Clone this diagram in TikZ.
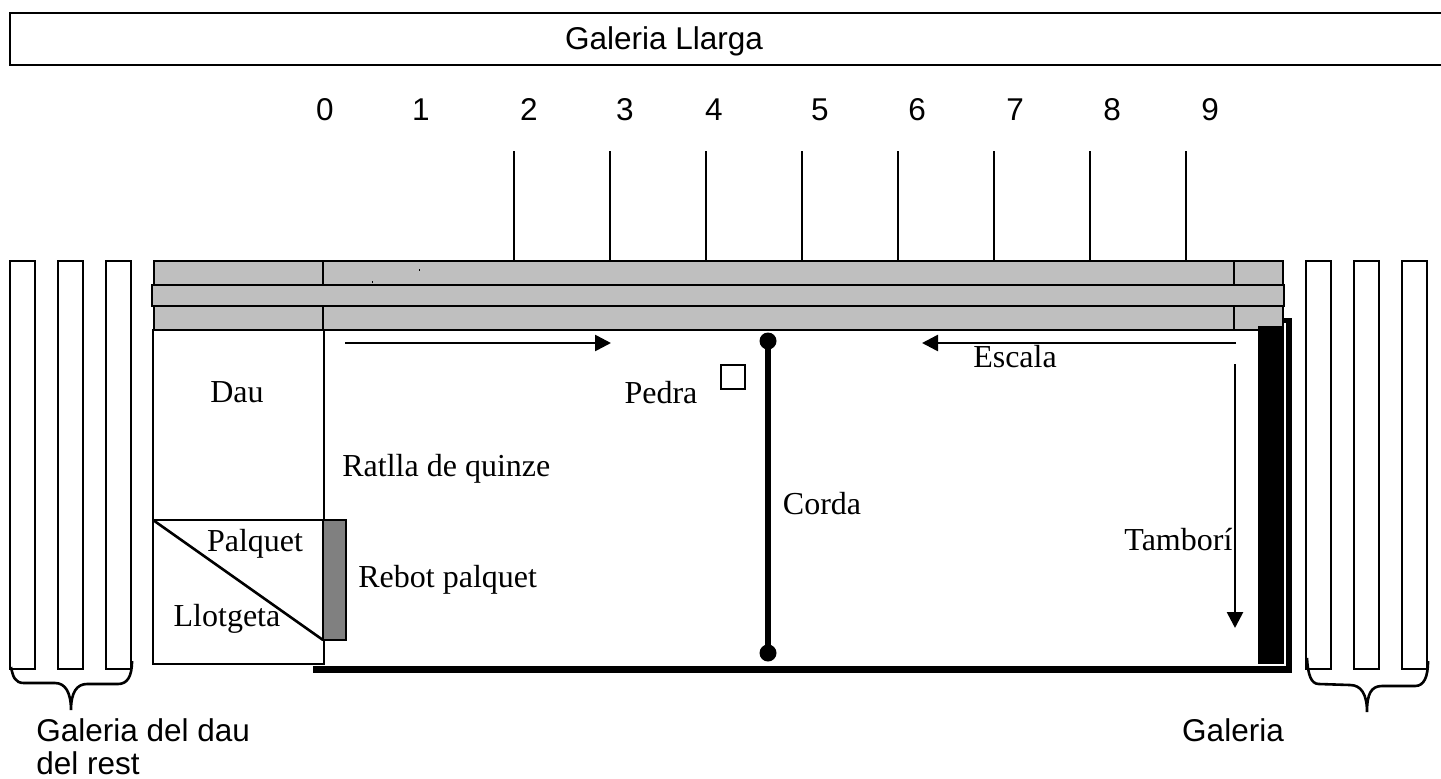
\documentclass[tikz,border=0pt]{standalone}
\usepackage{fontspec}
\setmainfont{Liberation Serif}
\setsansfont{Liberation Sans}
\usetikzlibrary{arrows.meta}
\def\galeriabars(#1){\foreach \i in {0,48,96} {\draw[line width=1.3pt] ({#1+\i},261) rectangle ({#1+\i+25},669);}}
\tikzset{
	serif label/.style={inner sep=0pt, anchor=base, font=\rmfamily\fontsize{16}{18}\selectfont},
	sans label/.style={inner sep=0pt, anchor=base, font=\sffamily\fontsize{15.75}{18}\selectfont},
	bar/.style={draw=black, line width=1.3pt, fill=black!25},
	run/.style={line width=1.3pt, -{Triangle[length=8pt,width=8pt]}}
}

\begin{document}
\begin{tikzpicture}[x=0.5pt, y=-0.5pt]
			%%%%% START %%%%%
			\useasboundingbox (0, 0) rectangle (1441, 778);
			
			\draw[line width=1.3pt] (10, 13) rectangle (1450, 65);
			\node[sans label] (llarga) at (664, 49) {Galeria Llarga};
			
			% numbers and ticks
			\foreach \x/\n in {325/0, 421/1, 529/2, 625/3, 714/4, 820/5, 917/6, 1015/7, 1112/8, 1210/9} {
				\node[sans label] (num\n) at (\x, 120) {\n};
			}
			\foreach \x in {514, 610, 706, 802, 898, 994, 1090, 1186} {
				\draw[line width=1.3pt] (\x, 151) -- (\x, 270);
			}
			
			% galleries
			\galeriabars(10)
			\galeriabars(1306)
			
			% penthouse
			\draw[bar] (154, 261) rectangle (1283, 285);
			\draw[bar] (152, 285) rectangle (1284, 306);
			\draw[bar] (154, 306) rectangle (1283, 330);
			\draw[line width=1.3pt] (323, 261) -- (323, 285);
			\draw[line width=1.3pt] (323, 306) -- (323, 330);
			\draw[line width=1.3pt] (1234, 261) -- (1234, 285);
			\draw[line width=1.3pt] (1234, 306) -- (1234, 330);
			\fill (371.5, 281) rectangle (372.5, 283);
			\fill (418.5, 269) rectangle (419.5, 271);
			
			% dau
			\draw[line width=0.9pt] (153, 330) rectangle (324, 664);
			\draw[line width=1.3pt] (153, 520) -- (323, 520);
			\draw[line width=1.3pt] (153, 520) -- (323, 640);
			\draw[line width=1.3pt, fill=black!50] (323, 520) rectangle (346, 640);
			
			% walls
			\fill (1258, 326) rectangle (1284, 664);
			\fill (1284, 318) rectangle (1292, 323);
			\fill (1286, 318) rectangle (1292, 672);
			\fill (313, 666) rectangle (1292, 673);
			
			% arrows
			\draw[run] (345, 343) -- (611, 343);
			\draw[run] (1236, 343) -- (922, 343);
			\draw[run] (1235, 364) -- (1235, 628);
			
			% net
			\draw[line width=3.2pt] (768, 341) -- (768, 653);
			\fill (768, 341) circle (8.5);
			\fill (768, 653) circle (8.5);
			\draw[line width=1.3pt] (721, 365) rectangle (745, 389);
			
			% braces
			\draw[line width=1.3pt] (11, 667) .. controls (13, 677) and (15, 683) .. (24, 683) -- (55, 683) .. controls (65, 683) and (71, 692) .. (71, 710) .. controls (71, 692) and (77, 684) .. (87, 684) -- (118, 684) .. controls (127, 684) and (132, 677) .. (132, 661);
			\draw[line width=1.3pt] (1307, 658) .. controls (1308, 675) and (1311, 684) .. (1319, 684) -- (1350, 685) .. controls (1361, 685) and (1367, 694) .. (1367, 712) .. controls (1367, 694) and (1371, 686) .. (1382, 686) -- (1415, 686) .. controls (1424, 686) and (1428, 677) .. (1428, 661);
			
			% labels
			\node[serif label] (dau) at (237, 402) {Dau};
			\node[serif label, anchor=base west] (ratlla) at (342, 476) {Ratlla de quinze};
			\node[serif label] (pedra) at (661, 403) {Pedra};
			\node[serif label] (escala) at (1015, 367) {Escala};
			\node[serif label] (corda) at (822, 514) {Corda};
			\node[serif label, anchor=base west] (tambori) at (1124, 550) {Tamborí};
			\node[serif label] (palquet) at (255, 551) {Palquet};
			\node[serif label] (llotgeta) at (227, 626) {Llotgeta};
			\node[serif label, anchor=base west] (rebot) at (358, 587) {Rebot palquet};
			\node[sans label, anchor=base west] (dauRest) at (36, 741) {Galeria del dau};
			\node[sans label, anchor=base west] (delRest) at (36, 774) {del rest};
			\node[sans label] (galeria) at (1233, 741) {Galeria};
			
			%%%%% END %%%%%
\end{tikzpicture}
\end{document}
